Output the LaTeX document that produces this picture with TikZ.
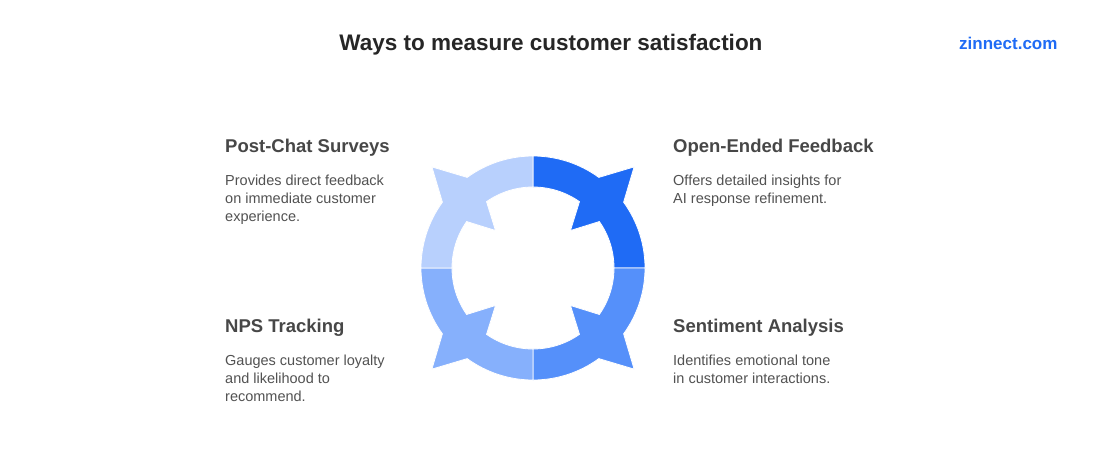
\documentclass[tikz,border=0pt]{standalone}
\usepackage{fontspec}
\setmainfont{Liberation Sans}
\usetikzlibrary{calc}
\begin{document}
\begin{tikzpicture}[x=1pt,y=-1pt,
  head/.style={anchor=base west,font=\bfseries\fontsize{18.5}{20}\selectfont,text=black!72,inner sep=0pt},
  body/.style={anchor=north west,align=left,font=\fontsize{14.5}{18}\selectfont,text=black!68,inner sep=0pt},
  seg/.style={draw=white,line width=0.8pt}]
\useasboundingbox (0,0) rectangle (1102,456);
\fill[white] (0,0) rectangle (1102,456);
\node[anchor=base,font=\bfseries\fontsize{22.5}{24}\selectfont,text=black!85] (title) at (551,50) {Ways to measure customer satisfaction};
\node[anchor=base east,font=\bfseries\fontsize{17}{18}\selectfont,text={rgb,255:red,31;green,107;blue,245}] (logo) at (1061,49) {zinnect.com};
\coordinate (c) at (533,268);
\def\ringseg#1#2{%
 \fill[#2,seg] ($(c)+(#1:112)$) arc[start angle=#1,end angle=#1+36,radius=112]
   -- ($(c)+(#1+45:143)$) -- ($(c)+(#1+54:112)$)
   arc[start angle=#1+54,end angle=#1+90,radius=112]
   -- ($(c)+(#1+90:81)$) arc[start angle=#1+90,end angle=#1+55,radius=81]
   -- ($(c)+(#1+45:53)$) -- ($(c)+(#1+35:81)$)
   arc[start angle=#1+35,end angle=#1,radius=81] -- cycle;}
\definecolor{qtr}{RGB}{31,107,245}
\definecolor{qbr}{RGB}{85,144,250}
\definecolor{qbl}{RGB}{134,176,252}
\definecolor{qtl}{RGB}{184,208,253}
\ringseg{270}{qtr}
\ringseg{0}{qbr}
\ringseg{90}{qbl}
\ringseg{180}{qtl}
\node[head] (h1) at (225,152) {Post-Chat Surveys};
\node[body] (b1) at (225,175) {Provides direct feedback\\on immediate customer\\experience.};
\node[head] (h2) at (673,152) {Open-Ended Feedback};
\node[body] (b2) at (673,175) {Offers detailed insights for\\AI response refinement.};
\node[head] (h3) at (225,332) {NPS Tracking};
\node[body] (b3) at (225,355) {Gauges customer loyalty\\and likelihood to\\recommend.};
\node[head] (h4) at (673,332) {Sentiment Analysis};
\node[body] (b4) at (673,355) {Identifies emotional tone\\in customer interactions.};
\end{tikzpicture}
\end{document}
